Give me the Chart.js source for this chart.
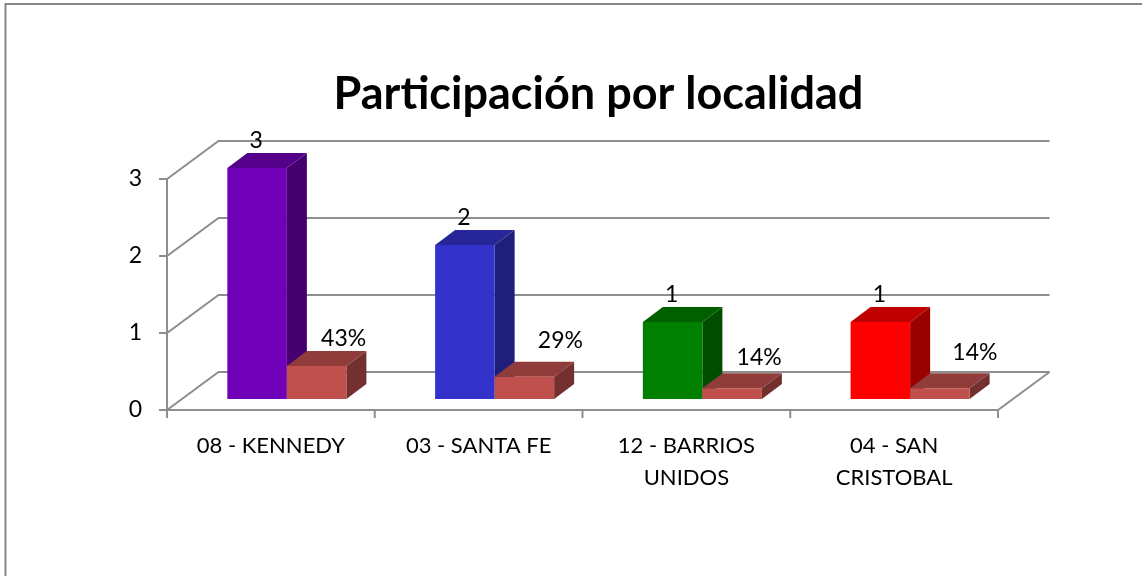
<!DOCTYPE html>
<html>
<head>
<meta charset="utf-8">
<title>Participación por localidad</title>
<script src="https://cdn.jsdelivr.net/npm/chart.js@4/dist/chart.umd.min.js"></script>
<style>
    html, body { margin: 0; padding: 0; background: #fff; }
    canvas { display: block; }
</style>
</head>
<body>
<canvas id="myChart" width="1142" height="576"></canvas>
<script>
    "use strict";

    const localidades = ['08 - KENNEDY', '03 - SANTA FE', ['12 - BARRIOS', 'UNIDOS'], ['04 - SAN', 'CRISTOBAL']];
    const cantidad = [3, 2, 1, 1];
    const porcentaje = [0.43, 0.29, 0.14, 0.14];
    const yTicks = [0, 1, 2, 3];

    const coloresCantidad = ['#7000b8', '#3333cc', '#008000', '#ff0000'];
    const colorPorcentaje = '#c0504d';

    // labels were moved by hand in the original, these are the offsets from each bar
    const labelShiftX = [27, 36, 27, 35];
    const labelShiftY = [27, 36, 31, 36];

    const gridColor = '#8e8e8e';
    const fontName = 'Lato, Carlito, sans-serif';

    // darken a hex colour for the side and top faces
    function shade(hex, f) {
        const n = parseInt(hex.slice(1), 16);
        const r = Math.round((n >> 16 & 255) * f);
        const g = Math.round((n >> 8 & 255) * f);
        const b = Math.round((n & 255) * f);
        return 'rgb(' + r + ',' + g + ',' + b + ')';
    }

    function poly(ctx, pts, color) {
        ctx.fillStyle = color;
        ctx.beginPath();
        pts.forEach(function (p, i) {
            if (i === 0) ctx.moveTo(p[0], p[1]);
            else ctx.lineTo(p[0], p[1]);
        });
        ctx.closePath();
        ctx.fill();
    }

    function line(ctx, pts) {
        ctx.beginPath();
        pts.forEach(function (p, i) {
            if (i === 0) ctx.moveTo(p[0], p[1]);
            else ctx.lineTo(p[0], p[1]);
        });
        ctx.stroke();
    }

    const wallX = 51.5, wallY = 38;   // back wall offset
    const barX = 16, barY = 11;       // bars sit a bit inside the floor
    const depthX = 20, depthY = 15;   // bar depth

    const fake3d = {
        id: 'fake3d',

        afterLayout: function (chart) {
            // original title is not centred on the canvas
            chart.titleBlock.left = 199;
        },

        beforeDraw: function (chart) {
            const ctx = chart.ctx;
            ctx.save();
            ctx.strokeStyle = '#868686';
            ctx.lineWidth = 2;
            line(ctx, [[5.5, 576], [5.5, 4], [1142, 4]]);
            ctx.restore();
        },

        beforeDatasetsDraw: function (chart) {
            const ctx = chart.ctx;
            const area = chart.chartArea;
            const y = chart.scales.y;

            ctx.save();
            ctx.strokeStyle = gridColor;
            ctx.lineWidth = 2;

            // walls and floor
            yTicks.forEach(function (t) {
                const py = y.getPixelForValue(t);
                line(ctx, [[area.left - 8, py], [area.left, py], [area.left + wallX, py - wallY], [area.right + wallX, py - wallY]]);
            });
            line(ctx, [[area.left, area.top], [area.left, area.bottom], [area.right, area.bottom], [area.right + wallX, area.bottom - wallY]]);

            const step = (area.right - area.left) / localidades.length;
            for (let i = 0; i <= localidades.length; i++) {
                const px = area.left + step * i;
                line(ctx, [[px, area.bottom], [px, area.bottom + 8]]);
            }

            // bars left to right so the red block covers the side of the tall one
            ctx.translate(barX, -barY);
            const metaA = chart.getDatasetMeta(0);
            const metaB = chart.getDatasetMeta(1);
            localidades.forEach(function (c, i) {
                [metaA.data[i], metaB.data[i]].forEach(function (bar, k) {
                    const color = k === 0 ? coloresCantidad[i] : colorPorcentaje;
                    const left = bar.x - bar.width / 2;
                    const right = bar.x + bar.width / 2;
                    poly(ctx, [[right, bar.y], [right + depthX, bar.y - depthY], [right + depthX, bar.base - depthY], [right, bar.base]], shade(color, 0.6));
                    poly(ctx, [[left, bar.y], [left + depthX, bar.y - depthY], [right + depthX, bar.y - depthY], [right, bar.y]], shade(color, 0.75));
                    bar.draw(ctx);
                });
            });

            // data labels
            ctx.fillStyle = '#000';
            ctx.font = '23px ' + fontName;
            ctx.textAlign = 'center';
            ctx.textBaseline = 'middle';
            localidades.forEach(function (c, i) {
                const a = metaA.data[i];
                const b = metaB.data[i];
                ctx.fillText(String(cantidad[i]), a.x - 1, a.y - 27);
                ctx.fillText(Math.round(porcentaje[i] * 100) + '%', b.x + labelShiftX[i], b.y - labelShiftY[i]);
            });
            ctx.restore();

            return false;
        }
    };

    const ctx = document.getElementById('myChart').getContext('2d');

    const myChart = new Chart(ctx, {
        type: 'bar',
        data: {
            labels: localidades,
            datasets: [{
                label: 'Cantidad',
                data: cantidad,
                backgroundColor: coloresCantidad,
                categoryPercentage: 0.573,
                barPercentage: 1
            }, {
                label: 'Porcentaje',
                data: porcentaje,
                backgroundColor: colorPorcentaje,
                categoryPercentage: 0.573,
                barPercentage: 1
            }]
        },
        options: {
            responsive: false,
            animation: false,
            layout: {
                padding: { left: 0, right: 144, top: 0, bottom: 0 }
            },
            plugins: {
                legend: { display: false },
                tooltip: { enabled: false },
                title: {
                    display: true,
                    text: 'Participación por localidad',
                    color: '#000',
                    font: { family: fontName, size: 45, weight: 'bold', lineHeight: 1.2 },
                    padding: { top: 67, bottom: 58 }
                }
            },
            scales: {
                x: {
                    afterFit: function (scale) { scale.height = 166; },
                    grid: { display: false },
                    border: { display: false },
                    ticks: {
                        color: '#000',
                        padding: 12,
                        autoSkip: false,
                        maxRotation: 0,
                        font: { family: fontName, size: 22, lineHeight: 1.455 }
                    }
                },
                y: {
                    min: 0,
                    max: 3,
                    afterFit: function (scale) { scale.width = 167; },
                    grid: { display: false },
                    border: { display: false },
                    ticks: {
                        color: '#000',
                        stepSize: 1,
                        padding: 17,
                        font: { family: fontName, size: 23 }
                    }
                }
            }
        },
        plugins: [fake3d]
    });
</script>
</body>
</html>
